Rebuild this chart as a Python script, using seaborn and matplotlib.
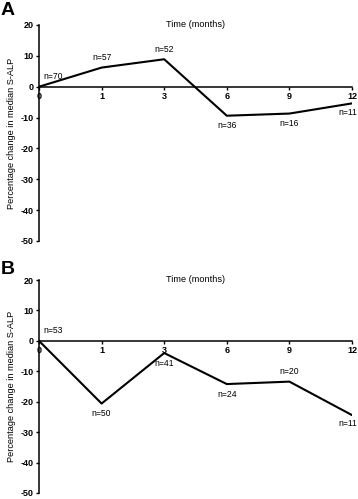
import matplotlib
matplotlib.use("Agg")
import matplotlib.pyplot as plt
import seaborn as sns
import numpy as np

# Time points (evenly spaced categories on the x axis)
months = ["0", "1", "3", "6", "9", "12"]

# Panel A: percentage change in median S-ALP and patient counts
change_a = [0, 6.2, 8.9, -9.4, -8.7, -5.4]
n_a = [70, 57, 52, 36, 16, 11]
above_a = [True, True, True, False, False, False]

# Panel B
change_b = [0, -20.6, -4.0, -14.2, -13.4, -24.4]
n_b = [53, 50, 41, 24, 20, 11]
above_b = [True, False, False, False, True, False]

sns.set_style("ticks")
plt.rcParams['font.family'] = ['Liberation Sans', 'DejaVu Sans']
plt.rcParams['axes.unicode_minus'] = False
for key in ('text.color', 'axes.labelcolor', 'axes.edgecolor',
            'xtick.color', 'ytick.color'):
    plt.rcParams[key] = 'black'

W, H = 358, 499
fig = plt.figure(figsize=(W / 100, H / 100), dpi=100)


def panel(rect, values, counts, above, letter, letter_y):
    ax = fig.add_axes(rect)
    pos = np.arange(len(months))
    sns.lineplot(x=pos, y=values, ax=ax, color="black", linewidth=1.5)
    ax.set_xlim(0, len(months) - 1)
    ax.set_ylim(-50, 20)
    ax.set_yticks([20, 10, 0, -10, -20, -30, -40, -50])
    ax.set_xticks(pos)
    ax.set_xticklabels(months)
    ax.spines['bottom'].set_position(('data', 0))
    ax.spines['top'].set_visible(False)
    ax.spines['right'].set_visible(False)
    for s in ('left', 'bottom'):
        ax.spines[s].set_linewidth(1.1)
    ax.tick_params(axis='both', direction='out', length=2.5, width=1.0,
                   labelsize=6.5, pad=1.5)
    for lab in ax.get_xticklabels() + ax.get_yticklabels():
        lab.set_fontweight('bold')
    ax.set_ylabel("Percentage change in median S-ALP", fontsize=6.6)
    ax.yaxis.set_label_coords(-0.075, 0.5)
    ax.text(0.5, 1.0, "Time (months)", transform=ax.transAxes,
            ha='center', va='center', fontsize=6.6)
    for i, (v, n, up) in enumerate(zip(values, counts, above)):
        if i == 0:
            off, ha = (3, 4), 'left'
        elif i == len(values) - 1:
            off, ha = (4, -3 if not up else 4), 'right'
        else:
            off, ha = (0, 4 if up else -4), 'center'
        ax.annotate(f"n={n}", (pos[i], v), xytext=off, textcoords='offset points',
                    ha=ha, va='bottom' if up else 'top', fontsize=6.2,
                    annotation_clip=False)
    fig.text(1 / W, letter_y, letter, fontsize=14, fontweight='bold',
             ha='left', va='top')
    return ax


# axes rectangles in figure fraction
left, right = 39 / W, 352 / W
panel([left, 1 - 241 / H, right - left, (241 - 25) / H],
      change_a, n_a, above_a, "A", 1 - 2 / H)
panel([left, 1 - 493 / H, right - left, (493 - 280) / H],
      change_b, n_b, above_b, "B", 1 - 261 / H)

fig.savefig("out.png", dpi=100)
